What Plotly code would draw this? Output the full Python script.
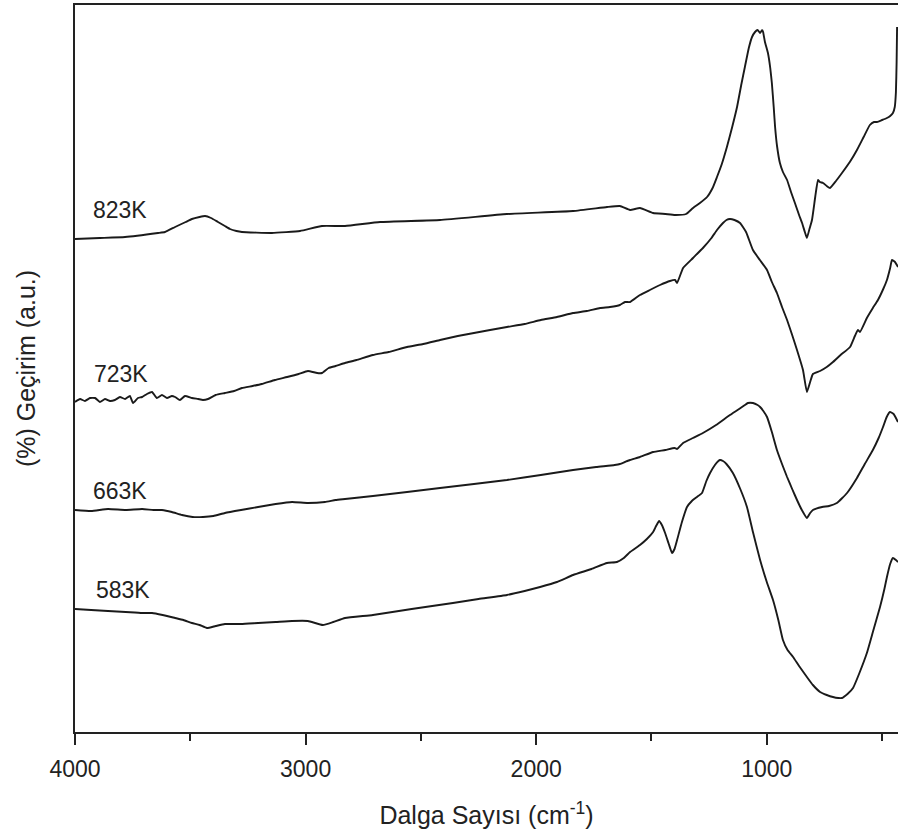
import plotly.graph_objects as go

# ---------------- data (wavenumber cm^-1, transmittance a.u.) ----------------
labels = ["823K", "723K", "663K", "583K"]

wn_823 = [4000, 3892, 3783, 3640, 3610, 3566, 3520, 3493, 3460, 3436, 3410, 3380, 3350, 3328, 3300,
          3276, 3146, 3024, 2929, 2829, 2677, 2417, 2127, 1840, 1693, 1637, 1593, 1550, 1493, 1440,
          1398, 1350, 1320, 1290, 1259, 1235, 1216, 1195, 1173, 1150, 1129, 1110, 1095, 1078, 1064,
          1051, 1040, 1029, 1020, 1016, 1008, 995, 985, 978, 970, 964, 955, 943, 930, 912, 895, 878,
          860, 847, 835, 826, 815, 804, 790, 778, 770, 756, 740, 726, 700, 674, 640, 609, 580, 553,
          535, 522, 500, 479, 465, 453, 445, 440, 437, 435]
tr_823 = [493, 494, 495, 499, 500, 505, 510, 513, 515, 516, 514, 510, 506, 503, 501,
          500, 499, 501, 506, 506, 510, 512, 518, 521, 525, 526, 522, 524, 519, 518,
          517, 518, 524, 529, 535, 544, 555, 568, 585, 605, 625, 648, 665, 684, 695,
          700, 702, 699, 702, 700, 690, 679, 664, 649, 625, 605, 585, 569, 560, 552, 540, 529,
          517, 509, 500, 494, 503, 512, 535, 552, 550, 549, 546, 544, 551, 559, 570, 582, 595, 607,
          610, 610, 612, 614, 616, 619, 625, 640, 670, 705]

wn_723 = [4000, 3978, 3957, 3935, 3913, 3892, 3870, 3848, 3827, 3805, 3783, 3762, 3748, 3727, 3709,
          3688, 3666, 3645, 3623, 3601, 3580, 3566, 3545, 3523, 3493, 3466, 3445, 3423, 3390, 3350,
          3310, 3276, 3230, 3190, 3133, 3080, 3030, 2990, 2950, 2929, 2900, 2870, 2829, 2780, 2708,
          2640, 2560, 2490, 2417, 2340, 2270, 2200, 2127, 2050, 1980, 1910, 1840, 1780, 1723, 1680,
          1637, 1615, 1593, 1550, 1507, 1463, 1420, 1398, 1389, 1363, 1320, 1277, 1240, 1216, 1190,
          1175, 1160, 1140, 1116, 1090, 1060, 1030, 999, 978, 956, 934, 912, 890, 869, 843, 826, 812,
          800, 769, 740, 713, 680, 639, 618, 605, 596, 566, 540, 518, 495, 479, 465, 457, 444, 431]
tr_723 = [330, 333, 331, 334, 334, 330, 333, 331, 332, 335, 333, 336, 329, 334, 335,
          338, 340, 334, 337, 334, 336, 335, 332, 336, 334, 333, 332, 333, 337, 339,
          341, 344, 346, 348, 352, 355, 358, 361, 359, 359, 364, 366, 369, 372, 377,
          380, 385, 388, 392, 396, 399, 402, 405, 408, 412, 415, 419, 421, 424, 425,
          427, 430, 430, 437, 442, 447, 451, 452, 449, 464, 474, 484, 494, 502, 509,
          512, 513, 512, 509, 500, 482, 472, 462, 450, 439, 425, 412, 397, 382, 362, 340, 350,
          358, 361, 365, 370, 377, 385, 396, 402, 400, 414, 424, 432, 443, 452, 464, 472, 470, 465]

wn_663 = [4000, 3930, 3857, 3780, 3709, 3660, 3623, 3580, 3536, 3490, 3445, 3400, 3350, 3280, 3206,
          3130, 3059, 2990, 2916, 2870, 2829, 2708, 2560, 2417, 2270, 2127, 1980, 1840, 1740, 1660,
          1637, 1615, 1593, 1550, 1493, 1440, 1400, 1389, 1363, 1320, 1277, 1220, 1160, 1120, 1095,
          1082, 1060, 1040, 1029, 1015, 999, 978, 956, 934, 912, 890, 869, 848, 826, 812, 800, 760,
          730, 696, 652, 609, 575, 540, 515, 496, 480, 466, 450, 431]
tr_663 = [222, 221, 223, 222, 223, 222, 222, 220, 217, 215, 215, 216, 219, 222, 225,
          228, 230, 229, 230, 232, 233, 236, 240, 244, 248, 252, 257, 262, 265, 267,
          268, 270, 272, 275, 280, 282, 284, 283, 289, 294, 299, 307, 317, 323, 327,
          329, 329, 327, 325, 321, 315, 300, 282, 268, 255, 243, 232, 222, 214, 219, 222, 225,
          226, 229, 239, 254, 268, 282, 294, 305, 315, 320, 318, 310]

wn_583 = [4000, 3930, 3857, 3780, 3709, 3666, 3620, 3566, 3530, 3493, 3460, 3428, 3390, 3350, 3280,
          3206, 3130, 3059, 2990, 2925, 2880, 2829, 2708, 2540, 2361, 2250, 2127, 2050, 1983, 1910,
          1840, 1760, 1693, 1650, 1620, 1593, 1550, 1520, 1493, 1480, 1467, 1455, 1441, 1425, 1411,
          1400, 1389, 1368, 1346, 1325, 1303, 1281, 1262, 1246, 1225, 1210, 1203, 1190, 1175, 1147,
          1115, 1086, 1060, 1029, 1000, 973, 950, 930, 910, 886, 860, 826, 800, 769, 740, 713, 690,
          674, 650, 626, 600, 566, 540, 509, 490, 479, 465, 453, 440, 431]
tr_583 = [123, 122, 121, 120, 119, 119, 117, 114, 112, 109, 107, 104, 106, 108, 108,
          109, 110, 111, 111, 107, 110, 114, 117, 123, 129, 133, 137, 141, 145, 150,
          157, 163, 169, 170, 174, 180, 187, 193, 200, 206, 211, 207, 199, 188, 179,
          183, 192, 210, 225, 231, 235, 239, 251, 259, 267, 271, 272, 271, 268, 259,
          243, 225, 200, 172, 150, 132, 112, 92, 82, 75, 66, 55, 47, 40, 37, 35, 34,
          34, 38, 44, 58, 79, 100, 125, 143, 155, 168, 174, 172, 170]

series = [(wn_823, tr_823), (wn_723, tr_723), (wn_663, tr_663), (wn_583, tr_583)]
label_wn = [3931, 3927, 3931, 3918]
label_tr = [522, 358, 241, 142]

x_ticks = [4000, 3000, 2000, 1000]
x_tick_text = ["4000", "3000", "2000", "1000"]
x_minor = [3500, 2500, 1500, 500]

# ---------------- figure ----------------
FONT = "Liberation Sans, Arial, sans-serif"
INK = "#222222"
fig = go.Figure()
for (wn, tr), name in zip(series, labels):
    fig.add_trace(go.Scatter(x=wn, y=tr, mode="lines", name=name,
                             line=dict(color="#1a1a1a", width=1.9, shape="spline", smoothing=0.4),
                             showlegend=False))

for name, lx, ly in zip(labels, label_wn, label_tr):
    fig.add_annotation(x=lx, y=ly, text=name, showarrow=False, xanchor="left", yanchor="middle",
                       font=dict(family=FONT, size=23, color=INK))

fig.update_layout(
    width=898, height=835,
    margin=dict(l=75, r=0, t=5, b=103),
    paper_bgcolor="white", plot_bgcolor="white",
    font=dict(family=FONT, color=INK),
)
fig.update_xaxes(
    range=[4000, 431], showgrid=False, zeroline=False,
    showline=True, linecolor=INK, linewidth=2, mirror=True,
    tickmode="array", tickvals=x_ticks, ticktext=x_tick_text,
    ticks="outside", ticklen=11, tickwidth=2, tickcolor=INK,
    ticklabelstandoff=4,
    tickfont=dict(family=FONT, size=23, color=INK),
    minor=dict(tickvals=x_minor, ticks="outside", ticklen=7, tickwidth=1.5, tickcolor=INK),
    title=dict(text="Dalga Sayısı (cm<sup>-1</sup>)", font=dict(family=FONT, size=25, color=INK),
               standoff=26),
)
fig.update_yaxes(
    range=[0, 727], showgrid=False, zeroline=False,
    showline=True, linecolor=INK, linewidth=2, mirror=False,
    showticklabels=False, ticks="",
    title=dict(text="(%) Geçirim (a.u.)", font=dict(family=FONT, size=25, color=INK),
               standoff=30),
)

fig.write_html("out.html", config={"displayModeBar": False},
               post_script="document.body.style.margin='0';document.body.style.overflow='hidden';")
